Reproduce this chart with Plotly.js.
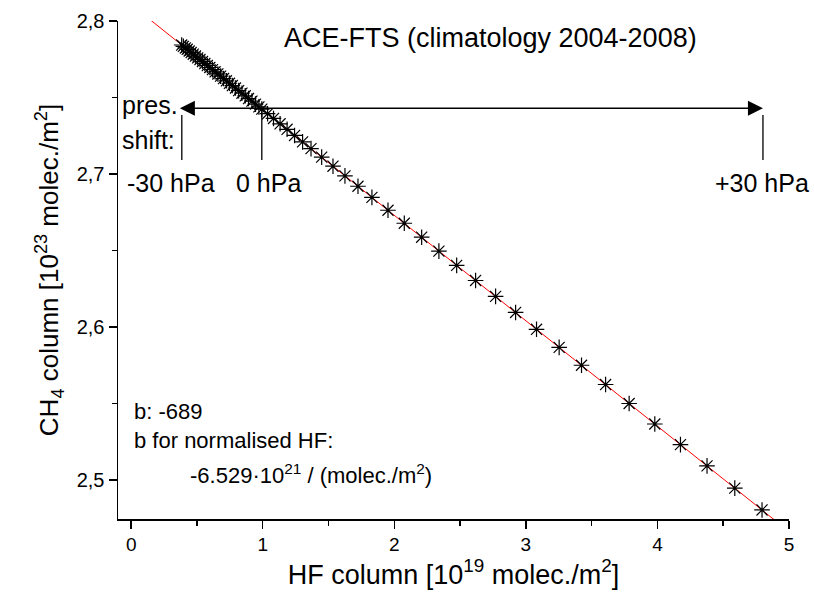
<!DOCTYPE html>
<html>
<head>
<meta charset="utf-8">
<script src="https://cdn.plot.ly/plotly-3.0.1.min.js"></script>
<style>html,body{margin:0;padding:0;background:#fff;}#chart{width:814px;height:608px;}</style>
</head>
<body>
<div id="chart"></div>
<script>
// HF column [10^19 molec./m^2] for pressure shifts -30 ... +30 hPa
const hfColumn = [0.384,0.397,0.412,0.426,0.441,0.456,0.472,0.489,0.506,0.523,0.542,0.560,0.579,0.598,0.618,0.638,0.659,0.680,0.702,0.724,0.747,0.769,0.793,0.817,0.842,0.867,0.892,0.918,0.945,0.971,
  0.993,
  1.037,1.082,1.132,1.185,1.242,1.303,1.367,1.448,1.534,1.625,1.724,1.830,1.952,2.076,2.208,2.339,2.474,2.618,2.770,2.922,3.081,3.253,3.423,3.606,3.785,3.980,4.175,4.377,4.588,4.795];
// CH4 column [10^23 molec./m^2]
const ch4Column = [2.7843,2.7834,2.7824,2.7815,2.7804,2.7794,2.7783,2.7771,2.7759,2.7748,2.7735,2.7722,2.7709,2.7696,2.7682,2.7668,2.7654,2.7640,2.7624,2.7609,2.7593,2.7578,2.7562,2.7545,2.7528,2.7511,2.7493,2.7476,2.7457,2.7439,
  2.7424,
  2.7394,2.7363,2.7328,2.7292,2.7252,2.7210,2.7166,2.7110,2.7051,2.6988,2.6920,2.6847,2.6763,2.6678,2.6587,2.6496,2.6403,2.6304,2.6200,2.6095,2.5985,2.5867,2.5750,2.5624,2.5500,2.5366,2.5231,2.5092,2.4947,2.4804];
// linear fit (slope b = -689)
const fitX = [0.10, 4.95];
const fitY = [2.8039, 2.4697];
// pressure shift markers
const shiftLabels = ["-30 hPa", "0 hPa", "+30 hPa"];
const shiftX = [0.385, 0.993, 4.802];
const xTicks = [0, 1, 2, 3, 4, 5];
const yTicks = [2.5, 2.6, 2.7, 2.8];

const F = "Liberation Sans, Arial, sans-serif";
const traces = [
  {x: fitX, y: fitY, mode: "lines", line: {color: "#ff0000", width: 1}, hoverinfo: "skip"},
  {x: hfColumn, y: ch4Column, mode: "markers",
   marker: {symbol: "asterisk-open", size: 13, color: "#000", line: {color: "#000", width: 1.2}}}
];

const shapes = [
  {type: "line", xref: "x", yref: "y", x0: shiftX[0], x1: shiftX[0], y0: 2.7386, y1: 2.7092, line: {color: "#000", width: 1.3}},
  {type: "line", xref: "x", yref: "y", x0: shiftX[1], x1: shiftX[1], y0: 2.7429, y1: 2.7092, line: {color: "#000", width: 1.3}},
  {type: "line", xref: "x", yref: "y", x0: shiftX[2], x1: shiftX[2], y0: 2.7386, y1: 2.7092, line: {color: "#000", width: 1.3}}
];

const annotations = [
  {x: 2.733, y: 2.789, xref: "x", yref: "y", text: "ACE-FTS (climatology 2004-2008)", showarrow: false,
   font: {family: F, size: 27, color: "#000"}},
  {x: shiftX[2], y: 2.7429, ax: 0.359, ay: 2.7429, xref: "x", yref: "y", axref: "x", ayref: "y",
   text: "", showarrow: true, arrowhead: 2, startarrowhead: 2, arrowside: "end+start",
   arrowsize: 2, startarrowsize: 2, arrowwidth: 1.5, arrowcolor: "#000"},
  {x: -0.083, y: 2.7452, xref: "x", yref: "y", xanchor: "left", text: "pres.", showarrow: false,
   font: {family: F, size: 25, color: "#000"}},
  {x: -0.083, y: 2.7224, xref: "x", yref: "y", xanchor: "left", text: "shift:", showarrow: false,
   font: {family: F, size: 25, color: "#000"}},
  {x: 0.300, y: 2.6944, xref: "x", yref: "y", text: shiftLabels[0], showarrow: false,
   font: {family: F, size: 25, color: "#000"}},
  {x: 1.047, y: 2.6944, xref: "x", yref: "y", text: shiftLabels[1], showarrow: false,
   font: {family: F, size: 25, color: "#000"}},
  {x: 4.420, y: 2.6944, xref: "x", yref: "y", xanchor: "left", text: shiftLabels[2], showarrow: false,
   font: {family: F, size: 25, color: "#000"}},
  {x: 0.005, y: 2.5445, xref: "x", yref: "y", xanchor: "left", text: "b: -689", showarrow: false,
   font: {family: F, size: 22, color: "#000"}},
  {x: 0.005, y: 2.5256, xref: "x", yref: "y", xanchor: "left", text: "b for normalised HF:", showarrow: false,
   font: {family: F, size: 22, color: "#000"}},
  {x: 0.435, y: 2.5037, xref: "x", yref: "y", xanchor: "left",
   text: "-6.529\u00b710<sup>21</sup> / (molec./m<sup>2</sup>)", showarrow: false,
   font: {family: F, size: 22, color: "#000"}}
];

const layout = {
  width: 814, height: 608,
  margin: {l: 118, r: 25, t: 21, b: 89, pad: 0},
  paper_bgcolor: "#fff", plot_bgcolor: "#fff",
  showlegend: false,
  separators: ", ",
  font: {family: F, color: "#000"},
  xaxis: {
    range: [-0.1, 5.0], tickvals: xTicks, ticks: "outside", ticklen: 8, tickwidth: 1.5, tickcolor: "#000",
    showline: true, linewidth: 1.5, linecolor: "#000", showgrid: false, zeroline: false,
    minor: {dtick: 0.5, tick0: 0, ticks: "outside", ticklen: 5, tickwidth: 1.5, tickcolor: "#000", showgrid: false},
    tickfont: {family: F, size: 19, color: "#000"},
    title: {text: "HF column [10<sup>19</sup> molec./m<sup>2</sup>]", font: {family: F, size: 27, color: "#000"}, standoff: 10}
  },
  yaxis: {
    range: [2.4745, 2.8], tickvals: yTicks, ticks: "outside", ticklen: 8, tickwidth: 1.5, tickcolor: "#000",
    showline: true, linewidth: 1.5, linecolor: "#000", showgrid: false, zeroline: false,
    minor: {dtick: 0.05, tick0: 2.5, ticks: "outside", ticklen: 5, tickwidth: 1.5, tickcolor: "#000", showgrid: false},
    tickfont: {family: F, size: 20, color: "#000"},
    title: {text: "CH<sub>4</sub> column [10<sup>23</sup> molec./m<sup>2</sup>]", font: {family: F, size: 26, color: "#000"}, standoff: 10}
  },
  shapes: shapes,
  annotations: annotations
};

Plotly.newPlot("chart", traces, layout, {displayModeBar: false, staticPlot: true});
</script>
</body>
</html>
